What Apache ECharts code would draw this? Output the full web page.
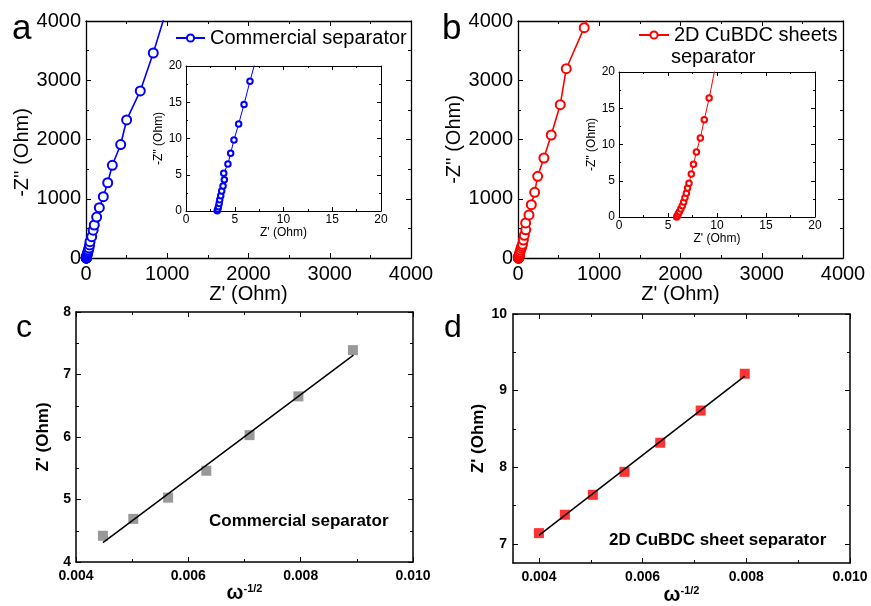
<!DOCTYPE html>
<html><head><meta charset="utf-8">
<script src="https://cdn.jsdelivr.net/npm/echarts@6/dist/echarts.min.js"></script>
<style>html,body{margin:0;padding:0;background:#fff}#c{width:871px;height:606px}</style>
</head><body><div id="c"></div>
<script>
const FONT = 'Liberation Sans, Arial, sans-serif';

// Panel a: commercial separator Nyquist data [Z', -Z'']
const commercialData = [
 [3.20,0.05],[3.26,0.25],[3.33,0.6],[3.40,1.05],[3.46,1.56],[3.56,2.1],[3.66,2.76],[3.80,3.45],
 [3.93,4.3],[3.87,5.2],[4.30,6.5],[4.58,7.96],[4.92,9.8],[5.40,12.0],[5.95,14.7],[6.56,17.9],
 [7.6,23],[8.5,28],[10,36],[12,48],[15,62],[19,82],[24,105],[30,135],[37,170],[44,220],
 [49,275],[70,360],[88,470],[102,557],[131,690],[164,850],[213,1035],[267,1270],[324,1565],
 [427,1915],[500,2330],[668,2820],[828,3460],[1000,4230]
];
// Panel b: 2D CuBDC sheets separator Nyquist data
const cubdcData = [
 [5.88,0.0],[5.95,0.18],[6.05,0.46],[6.16,0.73],[6.30,1.1],[6.46,1.56],[6.60,2.07],[6.73,2.67],
 [6.87,3.26],[7.00,4.0],[7.14,4.64],[7.38,5.93],[7.60,7.26],[7.90,8.97],[8.30,10.9],[8.70,13.4],
 [9.20,16.4],[10.1,22.5],[11.5,30],[13.5,40],[16,55],[20,75],[25,100],[32,135],[40,170],[48,200],
 [55,230],[66,304],[78,383],[95,475],[94,591],[135,726],[164,900],[205,1108],[242,1378],
 [319,1688],[409,2076],[520,2587],[594,3195],[815,3887],[880,4140]
];
// Panel c
const cOmega = [0.00448,0.00502,0.00564,0.00632,0.00709,0.00796,0.00893];
const cZre   = [4.42,4.69,5.03,5.46,6.03,6.65,7.39];
const cFit   = [[0.00448,4.31],[0.00894,7.31]];
// Panel d
const dOmega = [0.00400,0.00450,0.00504,0.00565,0.00634,0.00712,0.00797];
const dZre   = [7.14,7.38,7.64,7.94,8.32,8.74,9.22];
const dFit   = [[0.00400,7.11],[0.00797,9.19]];
// Tick values for panel d
const dXTicks = [0.004,0.006,0.008,0.010];
const dXMinor = [0.005,0.007,0.009];
const dYTicks = [7,8,9,10];
const dYMinor = [7.5,8.5,9.5];

const black = '#000';
function axisBase(o) {
  const a = {
    type:'value', gridIndex:o.g, position:o.pos, min:o.min, max:o.max,
    axisLine:{show:true, onZero:false, lineStyle:{color:black, width:o.lw||1.3}},
    axisTick:{show:true, inside:true, length:o.tl||5, lineStyle:{color:black, width:1}},
    minorTick:{show:o.minor!==false, splitNumber:2, length:o.ml||3, lineStyle:{color:black, width:1}},
    splitLine:{show:false},
    axisLabel:{show:!!o.label, fontSize:o.fs, color:black, fontFamily:FONT, fontWeight:o.fw||'normal', margin:o.margin||5,
      formatter:o.fmt || (v => String(v))},
  };
  if (o.interval !== undefined) a.interval = o.interval;
  if (o.name) {
    a.name = o.name; a.nameLocation = 'middle'; a.nameGap = o.nameGap;
    a.nameTextStyle = Object.assign({fontSize:o.nfs, color:black, fontFamily:FONT, fontWeight:o.fw||'normal'}, o.nts||{});
  }
  if (o.labelVals) { a.axisLabel.customValues = o.labelVals; a.axisTick.customValues = o.labelVals; }
  if (o.tickVals) { a.axisTick.customValues = o.tickVals; }
  return a;
}

const grids = [
  {left:86, top:21, width:325, height:237},
  {left:186, top:66, width:195, height:145, show:true, backgroundColor:'#fff', borderWidth:0},
  {left:518, top:21, width:325, height:237},
  {left:619, top:72, width:196, height:145, show:true, backgroundColor:'#fff', borderWidth:0},
  {left:76, top:312, width:337, height:250},
  {left:513, top:314, width:337, height:249}
];

const xAxes = [], yAxes = [];
// panels a, b and their insets
[0,2].forEach(g => {
  const yPad = g === 0 ? {padding:[0,26,0,0]} : {};
  xAxes.push(axisBase({g, pos:'bottom', min:0, max:4000, interval:1000, label:true, fs:20, margin:6, name:"Z' (Ohm)", nameGap:25, nfs:20}));
  xAxes.push(axisBase({g, pos:'top', min:0, max:4000, interval:1000}));
  yAxes.push(axisBase({g, pos:'left', min:0, max:4000, interval:1000, label:true, fs:20, margin:5, name:"-Z'' (Ohm)", nameGap:52, nfs:20, nts:yPad}));
  yAxes.push(axisBase({g, pos:'right', min:0, max:4000, interval:1000}));
  const gi = g+1;
  xAxes.push(axisBase({g:gi, pos:'bottom', min:0, max:20, interval:5, label:true, fs:12, margin:3, lw:1, tl:4, ml:2, name:"Z' (Ohm)", nameGap:14, nfs:12}));
  xAxes.push(axisBase({g:gi, pos:'top', min:0, max:20, interval:5, lw:1, tl:4, ml:2}));
  yAxes.push(axisBase({g:gi, pos:'left', min:0, max:20, interval:5, label:true, fs:12, margin:4, lw:1, tl:4, ml:2, name:"-Z'' (Ohm)", nameGap:18, nfs:12}));
  yAxes.push(axisBase({g:gi, pos:'right', min:0, max:20, interval:5, lw:1, tl:4, ml:2}));
});
// panel c
const fmt3 = v => Number(v).toFixed(3);
const omegaName = '{w|ω}{s|-1/2}';
const omegaRich = {rich:{w:{fontSize:20, fontWeight:'bold', fontFamily:FONT, color:black}, s:{fontSize:11, fontWeight:'bold', fontFamily:FONT, color:black, verticalAlign:'top'}}};
xAxes.push(axisBase({g:4, pos:'bottom', min:0.004, max:0.010, interval:0.002, label:true, fs:14, fw:'bold', margin:7, lw:1.5, fmt:fmt3, name:omegaName, nameGap:20, nfs:18, nts:omegaRich}));
xAxes.push(axisBase({g:4, pos:'top', min:0.004, max:0.010, interval:0.002, lw:1.5}));
yAxes.push(axisBase({g:4, pos:'left', min:4, max:8, interval:1, label:true, fs:14, fw:'bold', margin:5, lw:1.5, name:"Z' (Ohm)", nameGap:24, nfs:17}));
yAxes.push(axisBase({g:4, pos:'right', min:4, max:8, interval:1, lw:1.5}));
// panel d
xAxes.push(axisBase({g:5, pos:'bottom', min:0.0035, max:0.010, minor:false, labelVals:dXTicks, label:true, fs:14, fw:'bold', margin:7, lw:1.5, fmt:fmt3, name:omegaName, nameGap:22, nfs:18, nts:omegaRich}));
xAxes.push(axisBase({g:5, pos:'top', min:0.0035, max:0.010, minor:false, labelVals:dXTicks, lw:1.5}));
yAxes.push(axisBase({g:5, pos:'left', min:6.75, max:10, minor:false, labelVals:dYTicks, label:true, fs:14, fw:'bold', margin:6, lw:1.5, name:"Z' (Ohm)", nameGap:26, nfs:17}));
yAxes.push(axisBase({g:5, pos:'right', min:6.75, max:10, minor:false, labelVals:dYTicks, lw:1.5}));
// minor tick overlays for d
xAxes.push(Object.assign(axisBase({g:5, pos:'bottom', min:0.0035, max:0.010, minor:false, tickVals:dXMinor, tl:3}), {axisLine:{show:false, onZero:false}}));
xAxes.push(Object.assign(axisBase({g:5, pos:'top', min:0.0035, max:0.010, minor:false, tickVals:dXMinor, tl:3}), {axisLine:{show:false, onZero:false}}));
yAxes.push(Object.assign(axisBase({g:5, pos:'left', min:6.75, max:10, minor:false, tickVals:dYMinor, tl:3}), {axisLine:{show:false, onZero:false}}));
yAxes.push(Object.assign(axisBase({g:5, pos:'right', min:6.75, max:10, minor:false, tickVals:dYMinor, tl:3}), {axisLine:{show:false, onZero:false}}));

const zip = (a,b) => a.map((v,i) => [v,b[i]]);
function nyq(name, data, xi, color, inset) {
  return {type:'line', name, data, xAxisIndex:xi, yAxisIndex:xi, color,
    symbol:'emptyCircle', symbolSize: inset ? 5.5 : 9, clip:true, animation:false,
    lineStyle:{color, width: inset ? 1 : 1.6},
    itemStyle:{color, borderColor:color, borderWidth: inset ? 1 : 1.5}};
}
const series = [
  nyq('Commercial separator', commercialData, 0, '#0000ff', false),
  nyq('Commercial separator inset', commercialData, 2, '#0000ff', true),
  nyq('2D CuBDC sheets separator', cubdcData, 4, '#ff0000', false),
  nyq('2D CuBDC sheets separator inset', cubdcData, 6, '#ff0000', true),
  {type:'scatter', name:'c data', data:zip(cOmega,cZre), xAxisIndex:8, yAxisIndex:8, symbol:'rect', symbolSize:10, itemStyle:{color:'#808080'}, z:2},
  {type:'line', name:'c fit', data:cFit, xAxisIndex:8, yAxisIndex:8, symbol:'none', lineStyle:{color:black, width:1.5}, z:3},
  {type:'scatter', name:'d data', data:zip(dOmega,dZre), xAxisIndex:10, yAxisIndex:10, symbol:'rect', symbolSize:10, itemStyle:{color:'#ff0000'}, z:2},
  {type:'line', name:'d fit', data:dFit, xAxisIndex:10, yAxisIndex:10, symbol:'none', lineStyle:{color:black, width:1.5}, z:3}
];

function letter(t, x, y, size) {
  return {type:'text', left:x, top:y, style:{text:t, fontSize:size, fontFamily:FONT, fill:black}};
}
const option = {
  animation:false,
  backgroundColor:'#fff',
  grid:grids, xAxis:xAxes, yAxis:yAxes, series,
  legend:[
    {data:['Commercial separator'], left:175, top:28, itemWidth:29, itemHeight:9, padding:0,
     textStyle:{fontSize:20, fontFamily:FONT, color:black}},
    {data:['2D CuBDC sheets separator'], left:638, top:25, itemWidth:30, itemHeight:9, padding:0,
     formatter:()=>'2D CuBDC sheets',
     textStyle:{fontSize:20, fontFamily:FONT, color:black}}
  ],
  graphic:[
    letter('a', 12, 12, 35),
    letter('b', 442, 12, 35),
    letter('c', 16, 312, 32),
    letter('d', 444, 312, 32),
    {type:'text', left:671, top:47, style:{text:'separator', fontSize:20, fontFamily:FONT, fill:black}},
    {type:'text', left:209, top:513, style:{text:'Commercial separator', fontSize:17, fontWeight:'bold', fontFamily:FONT, fill:black}},
    {type:'text', left:609, top:532, style:{text:'2D CuBDC sheet separator', fontSize:17, fontWeight:'bold', fontFamily:FONT, fill:black}}
  ]
};
const chart = echarts.init(document.getElementById('c'), null, {renderer:'canvas'});
chart.setOption(option);
</script></body></html>
